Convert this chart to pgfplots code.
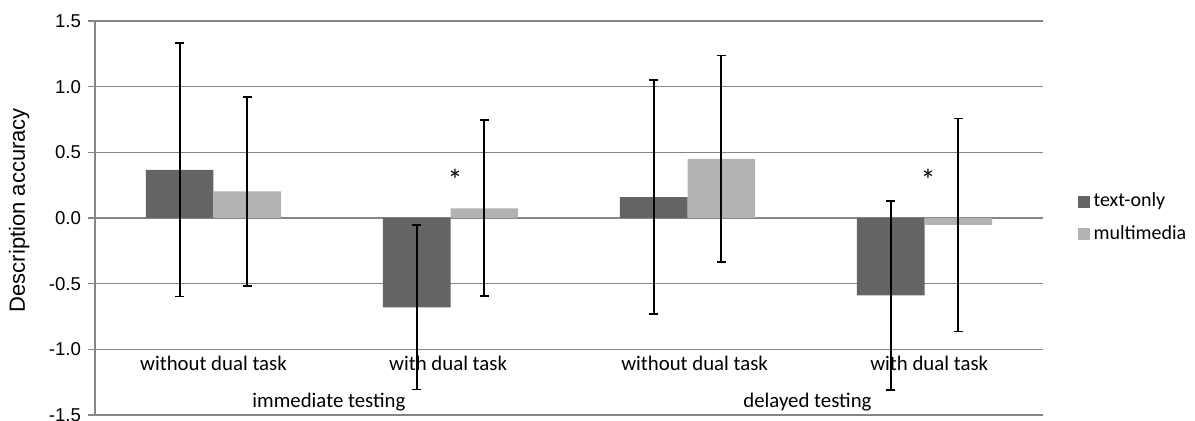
\documentclass[border=0pt]{standalone}
\usepackage{pgfplots}
\pgfplotsset{compat=1.18}
\usepackage{fontspec}
\setmainfont{Carlito}
\newfontfamily\arialfont{Liberation Sans}
\definecolor{darkbar}{RGB}{100,100,100}
\definecolor{lightbar}{RGB}{178,178,178}
\definecolor{gridgray}{RGB}{134,134,134}
\begin{document}
\begin{tikzpicture}
\useasboundingbox (-47.5pt,-3pt) rectangle (550pt,207.5pt);
\begin{axis}[
  at={(0,0)}, anchor=south west,
  scale only axis, width=474pt, height=197pt,
  xmin=-0.5, xmax=3.5, ymin=-1.5, ymax=1.5,
  ytick={-1.5,-1,-0.5,0,0.5,1,1.5},
  xtick=\empty,
  ymajorgrids, grid style={gridgray, line width=0.6pt},
  axis x line=bottom, axis y line=left,
  axis line style={gridgray, line width=0.75pt, -},
  tick align=outside, major tick length=3.5pt,
  tick style={gridgray, line width=0.6pt},
  yticklabel style={font=\arialfont\fontsize{9.3}{10}\selectfont},
  ylabel={Description accuracy},
  ylabel style={font=\arialfont\fontsize{11}{13}\selectfont, at={(axis description cs:-0.08,0.52)}, anchor=center},
  legend style={draw=none, fill=none, at={(1.036,0.5)}, anchor=west, font=\fontsize{10}{12}\selectfont, row sep=4pt, inner sep=0pt},
  legend cell align=left,
  legend image code/.code={\fill[#1] (0pt,-3pt) rectangle (6pt,3pt);},
  /pgf/number format/.cd, fixed, fixed zerofill, precision=1, assume math mode=true, /pgfplots/.cd,
]
\addplot[ybar, fill=darkbar, draw=none, bar width=0.285, bar shift=-0.1425]
  coordinates {(0,0.366) (1,-0.68) (2,0.159) (3,-0.59)};
\addplot[ybar, fill=lightbar, draw=none, bar width=0.285, bar shift=0.1425]
  coordinates {(0,0.203) (1,0.074) (2,0.45) (3,-0.053)};
\legend{text-only, multimedia}
% error bars at the bar centres
\addplot[forget plot, draw=none, mark=none,
  error bars/.cd, y dir=both, y explicit,
  error bar style={draw=black, line width=0.8pt},
  error mark options={draw=black, line width=0.8pt, mark size=2.25pt, rotate=90}]
  coordinates {(-0.1425,0.366) +- (0,0.965) (0.8575,-0.68) +- (0,0.625) (1.8575,0.159) +- (0,0.892) (2.8575,-0.59) +- (0,0.72)};
\addplot[forget plot, draw=none, mark=none,
  error bars/.cd, y dir=both, y explicit,
  error bar style={draw=black, line width=0.8pt},
  error mark options={draw=black, line width=0.8pt, mark size=2.25pt, rotate=90}]
  coordinates {(0.1425,0.203) +- (0,0.72) (1.1425,0.074) +- (0,0.67) (2.1425,0.45) +- (0,0.787) (3.1425,-0.053) +- (0,0.81)};
\node[font=\fontsize{10.4}{12}\selectfont, anchor=base] at (axis cs:0,-1.158) {without dual task};
\node[font=\fontsize{10.4}{12}\selectfont, anchor=base] at (axis cs:0.99,-1.158) {with dual task};
\node[font=\fontsize{10.4}{12}\selectfont, anchor=base] at (axis cs:2.03,-1.158) {without dual task};
\node[font=\fontsize{10.4}{12}\selectfont, anchor=base] at (axis cs:3.02,-1.158) {with dual task};
\node[font=\fontsize{10.4}{12}\selectfont, anchor=base] at (axis cs:0.487,-1.44) {immediate testing};
\node[font=\fontsize{10.4}{12}\selectfont, anchor=base] at (axis cs:2.506,-1.44) {delayed testing};
\node[font=\fontsize{15}{16}\selectfont, anchor=base] at (axis cs:1.019,0.21) {*};
\node[font=\fontsize{15}{16}\selectfont, anchor=base] at (axis cs:3.015,0.21) {*};
\end{axis}
\end{tikzpicture}
\end{document}
